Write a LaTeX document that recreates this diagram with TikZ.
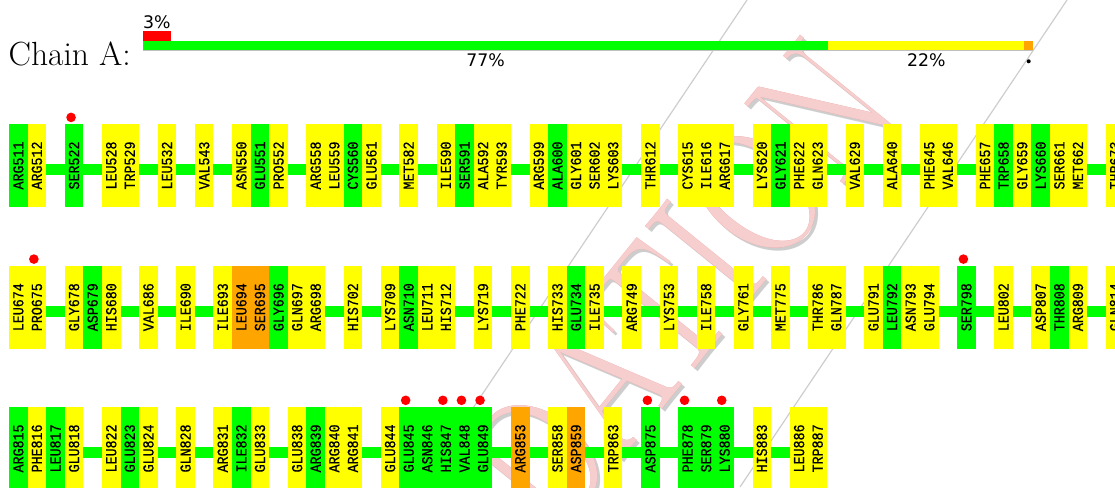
\documentclass[tikz,border=0pt]{standalone}
\usepackage{fontspec}
\usepackage{graphicx}
\usepackage{pdfrender}
\newfontfamily\resfont[FakeBold=0.7]{Liberation Mono}
\newfontfamily\pctfont{DejaVu Sans}
\definecolor{cG}{RGB}{0,255,0}
\definecolor{cY}{RGB}{255,255,0}
\definecolor{cO}{RGB}{255,165,0}
\definecolor{cR}{RGB}{255,0,0}
\definecolor{wmpink}{RGB}{246,206,206}
\definecolor{wmedge}{RGB}{236,150,150}
\definecolor{wmgray}{RGB}{205,205,205}
\pgfdeclarelayer{wm}
\pgfdeclarelayer{bg}
\pgfsetlayers{wm,bg,main}
\tikzset{
 res/.style={inner sep=0pt, minimum width=18.59pt, minimum height=83pt,
   font=\resfont\fontsize{13.33}{14}\selectfont, text=black},
 chainbar/.style={draw=cG, line width=11pt},
 flag/.style={fill=cR},
 pct/.style={font=\pctfont\fontsize{17.3}{20}\selectfont, inner sep=0pt},
 wmline/.style={draw=wmgray, line width=1.2pt},
 wmtext/.style={rotate=51, anchor=base east, inner sep=0pt,
   font=\fontsize{150}{160}\selectfont},
}
\newcommand{\resrow}[2]{%
 \foreach \s/\n/\c/\d in {#2} {%
  \node[res, fill=\c] (r\n) at ({9+(\s+0.5)*18.59}, {#1+41.5}) {\rotatebox{90}{\scalebox{1}[1.15]{\n}}};
  \ifnum\d=1 \fill[flag] ({9+(\s+0.5)*18.59-3}, {#1-6.6}) circle (4.8pt);\fi
 }}
\begin{document}
\begin{tikzpicture}[x=1pt,y=-1pt]
\useasboundingbox (0,0) rectangle (1115,487);
\clip (0,0) rectangle (1115,487);
% watermark
\begin{pgfonlayer}{wm}
\node[wmtext, text=wmgray] (wmshadow) at (908,113) {\scalebox{1}[1.25]{VALIDATION}};
\node[wmtext, text=wmedge] (wmedge) at (905,110) {\scalebox{1}[1.25]{\textpdfrender{TextRenderingMode=FillStroke, LineWidth=2.2}{VALIDATION}}};
\node[wmtext, text=wmpink] (wmark) at (905,110) {\scalebox{1}[1.25]{VALIDATION}};
\draw[wmline] (747,0) -- (420,487);
\draw[wmline] (1067,0) -- (740,487);
\end{pgfonlayer}
% header
\node[anchor=base west, inner sep=0pt, font=\fontsize{33.5}{38}\selectfont] (chain) at (8.5,66) {Chain A:};
\fill[cR] (143,31) rectangle (171,41);
\fill[cG] (143,41) rectangle (828.3,50);
\fill[cY] (828.3,41) rectangle (1024.3,50);
\fill[cO] (1024.3,41) rectangle (1033.3,50);
\draw[gray!50, line width=0.8pt] (143,50.4) -- (1033.3,50.4);
\node[pct, anchor=base west] (p3) at (143,28.3) {3\%};
\node[pct, anchor=base] (p77) at (485.6,66.2) {77\%};
\node[pct, anchor=base] (p22) at (926.3,66.4) {22\%};
\fill (1028.7,61.3) circle (2pt);
% rows
\resrow{124}{0/ARG511/cG/0, 1/ARG512/cY/0, 3/SER522/cG/1, 5/LEU528/cY/0, 6/TRP529/cY/0, 8/LEU532/cY/0, 10/VAL543/cY/0, 12/ASN550/cY/0, 13/GLU551/cG/0, 14/PRO552/cY/0, 16/ARG558/cY/0, 17/LEU559/cY/0, 18/CYS560/cG/0, 19/GLU561/cY/0, 21/MET582/cY/0, 23/ILE590/cY/0, 24/SER591/cG/0, 25/ALA592/cY/0, 26/TYR593/cY/0, 28/ARG599/cY/0, 29/ALA600/cG/0, 30/GLY601/cY/0, 31/SER602/cY/0, 32/LYS603/cY/0, 34/THR612/cY/0, 36/CYS615/cY/0, 37/ILE616/cY/0, 38/ARG617/cY/0, 40/LYS620/cY/0, 41/GLY621/cG/0, 42/PHE622/cY/0, 43/GLN623/cY/0, 45/VAL629/cY/0, 47/ALA640/cY/0, 49/PHE645/cY/0, 50/VAL646/cY/0, 52/PHE657/cY/0, 53/TRP658/cG/0, 54/GLY659/cY/0, 55/LYS660/cG/0, 56/SER661/cY/0, 57/MET662/cY/0, 59/THR673/cY/0}
\resrow{265.7}{0/LEU674/cY/0, 1/PRO675/cY/1, 3/GLY678/cY/0, 4/ASP679/cG/0, 5/HIS680/cY/0, 7/VAL686/cY/0, 9/ILE690/cY/0, 11/ILE693/cY/0, 12/LEU694/cO/0, 13/SER695/cO/0, 14/GLY696/cG/0, 15/GLN697/cY/0, 16/ARG698/cY/0, 18/HIS702/cY/0, 20/LYS709/cY/0, 21/ASN710/cG/0, 22/LEU711/cY/0, 23/HIS712/cY/0, 25/LYS719/cY/0, 27/PHE722/cY/0, 29/HIS733/cY/0, 30/GLU734/cG/0, 31/ILE735/cY/0, 33/ARG749/cY/0, 35/LYS753/cY/0, 37/ILE758/cY/0, 39/GLY761/cY/0, 41/MET775/cY/0, 43/THR786/cY/0, 44/GLN787/cY/0, 46/GLU791/cY/0, 47/LEU792/cG/0, 48/ASN793/cY/0, 49/GLU794/cY/0, 51/SER798/cG/1, 53/LEU802/cY/0, 55/ASP807/cY/0, 56/THR808/cG/0, 57/ARG809/cY/0, 59/GLN814/cY/0}
\resrow{406.9}{0/ARG815/cG/0, 1/PHE816/cY/0, 2/LEU817/cG/0, 3/GLU818/cY/0, 5/LEU822/cY/0, 6/GLU823/cG/0, 7/GLU824/cY/0, 9/GLN828/cY/0, 11/ARG831/cY/0, 12/ILE832/cG/0, 13/GLU833/cY/0, 15/GLU838/cY/0, 16/ARG839/cG/0, 17/ARG840/cY/0, 18/ARG841/cY/0, 20/GLU844/cY/0, 21/GLU845/cG/1, 22/ASN846/cG/0, 23/HIS847/cG/1, 24/VAL848/cG/1, 25/GLU849/cG/1, 27/ARG853/cO/0, 29/SER858/cY/0, 30/ASP859/cO/0, 32/TRP863/cY/0, 34/ASP875/cG/1, 36/PHE878/cG/1, 37/SER879/cG/0, 38/LYS880/cG/1, 40/HIS883/cY/0, 42/LEU886/cY/0, 43/TRP887/cY/0}
% chain connectors
\begin{pgfonlayer}{bg}
\draw[chainbar] ([yshift=-4pt]rARG511.center) -- ([yshift=-4pt]rTHR673.center);
\draw[chainbar] ([yshift=-4pt]rLEU674.center) -- ([yshift=-4pt]rGLN814.center);
\draw[chainbar] ([yshift=-4pt]rARG815.center) -- ([yshift=-4pt]rTRP887.center);
\end{pgfonlayer}
\end{tikzpicture}
\end{document}
